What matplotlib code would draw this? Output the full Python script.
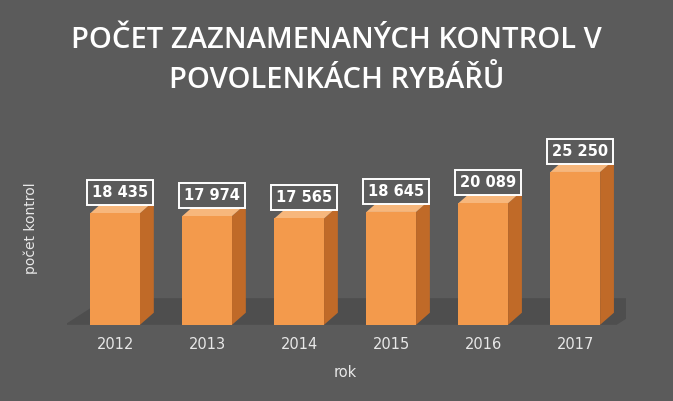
import matplotlib
matplotlib.use("Agg")
import matplotlib.pyplot as plt
from matplotlib.patches import Polygon, Rectangle

years = ["2012", "2013", "2014", "2015", "2016", "2017"]
values = [18435, 17974, 17565, 18645, 20089, 25250]
labels = ["18 435", "17 974", "17 565", "18 645", "20 089", "25 250"]

BG = "#5b5b5b"
FRONT = "#f39a4c"
SIDE = "#c06a28"
TOP = "#f7b77c"

fig = plt.figure(figsize=(6.73, 4.01), dpi=100, facecolor=BG)
ax = fig.add_axes([0.1, 0.19, 0.83, 0.56])
ax.set_facecolor(BG)
ax.set_xlim(-0.52, 5.55)
ax.set_ylim(0, 37100)
ax.axis("off")

w = 0.54
dx, dy = 0.15, 2000

# floor
ax.add_patch(Polygon([(-0.55, 0), (5.45, 0), (5.45 + 3 * dx, 2.2 * dy), (-0.55 + 3 * dx, 2.2 * dy)],
                     closed=True, facecolor="#4e4e4e", edgecolor="none", zorder=1))

for i, (v, lab) in enumerate(zip(values, labels)):
    x0 = i - w / 2
    x1 = i + w / 2
    ax.add_patch(Polygon([(x1, 0), (x1 + dx, dy), (x1 + dx, v + dy), (x1, v)],
                         closed=True, facecolor=SIDE, edgecolor="none", zorder=2))
    ax.add_patch(Polygon([(x0, v), (x1, v), (x1 + dx, v + dy), (x0 + dx, v + dy)],
                         closed=True, facecolor=TOP, edgecolor="none", zorder=2))
    ax.add_patch(Rectangle((x0, 0), w, v, facecolor=FRONT, edgecolor="none", zorder=3))
    ax.annotate(lab, xy=(i + 0.05, v), xytext=(0, 15), textcoords="offset points",
                ha="center", va="center", color="white", fontsize=10.5, fontweight="bold",
                bbox=dict(boxstyle="square,pad=0.35", facecolor=BG, edgecolor="white", linewidth=1.4),
                zorder=5, annotation_clip=False)
    ax.text(i, -3300, years[i], ha="center", va="center", color="#e8e8e8", fontsize=10.5)

ax.text(2.5, -7800, "rok", ha="center", va="center", color="#e8e8e8", fontsize=10.5)
fig.text(0.045, 0.43, "počet kontrol", rotation=90, ha="center", va="center",
         color="#e8e8e8", fontsize=10)

for y, line in [(0.9, "POČET ZAZNAMENANÝCH KONTROL V"), (0.8, "POVOLENKÁCH RYBÁŘŮ")]:
    fig.text(0.5, y, line, ha="center", va="center", color="white", fontsize=21,
             family="Open Sans", fontweight="semibold")

fig.savefig("out.png", dpi=100, facecolor=BG)
